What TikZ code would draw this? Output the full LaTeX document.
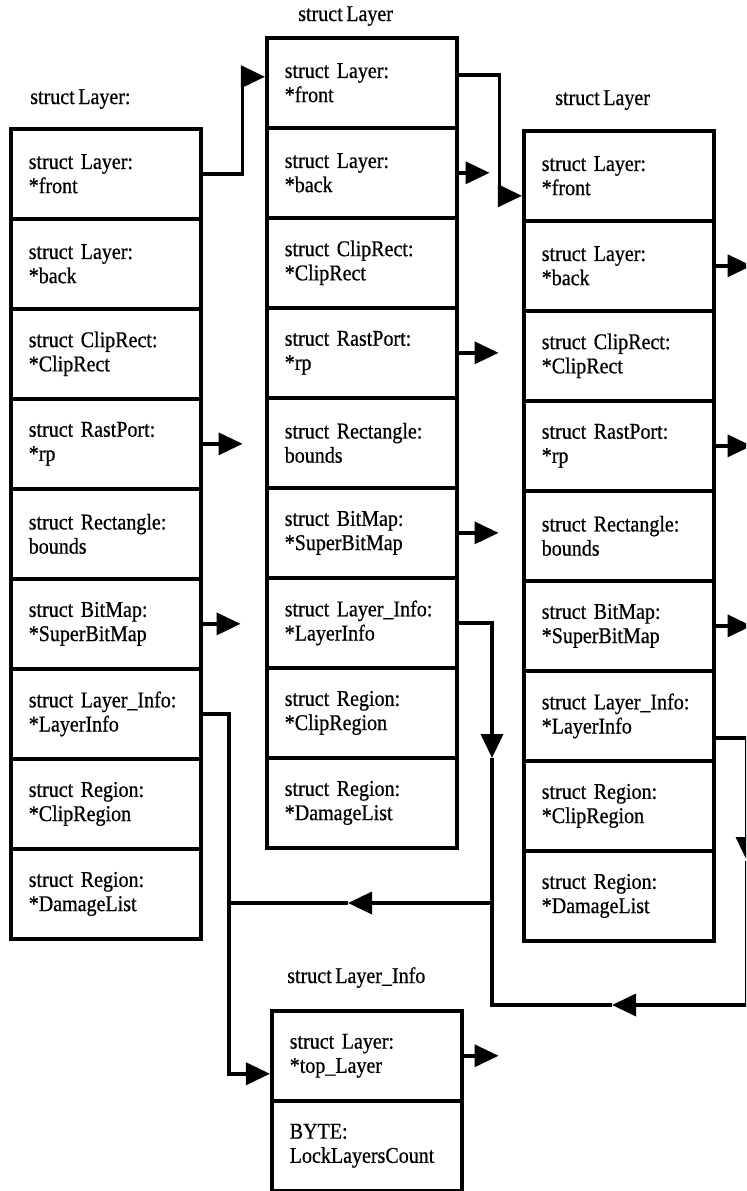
\documentclass[tikz,border=0pt]{standalone}
\usepackage{fontspec}
\setmainfont{Liberation Serif}[FakeStretch=0.89, FakeBold=0.6, WordSpace=0.7]
\usetikzlibrary{positioning,arrows.meta}
\newcommand{\fieldfont}{\fontsize{16}{17.2}\selectfont\spaceskip=0.17em plus 0.05em\relax}

\begin{document}
\begin{tikzpicture}[x=0.025cm, y=-0.025cm, node distance=2.25cm,
    field/.style={rectangle, draw, line width=2.5pt, minimum width=4.75cm, minimum height=2.25cm, text width=3.85cm, inner xsep=0.45cm, align=left, font=\fieldfont},
    title/.style={anchor=base west, inner sep=0pt, font=\fontsize{16}{17.2}\selectfont},
    arrow/.style={-{Triangle[length=0.6cm, width=0.55cm]}, line width=2.5pt},
    wire/.style={line width=2.5pt}]

    \useasboundingbox (0,0) rectangle (746,1191);
    \clip (0,0) rectangle (746,1191);

    \node[title] (title1) at (30,104) {struct Layer:};
    \node[field, anchor=north west] (front1) at (9,127) {struct Layer:\\{*}front};
    \node[field, below of=front1] (back1) {struct Layer:\\{*}back};
    \node[field, below of=back1] (clip1) {struct ClipRect:\\{*}ClipRect};
    \node[field, below of=clip1] (rp1) {struct RastPort:\\{*}rp};
    \node[field, below of=rp1] (bounds1) {struct Rectangle:\\bounds};
    \node[field, below of=bounds1] (bitmap1) {struct BitMap:\\{*}SuperBitMap};
    \node[field, below of=bitmap1] (info1) {struct Layer\_Info:\\{*}LayerInfo};
    \node[field, below of=info1] (cregion1) {struct Region:\\{*}ClipRegion};
    \node[field, below of=cregion1] (damage1) {struct Region:\\{*}DamageList};

    \node[title] (title2) at (298,21) {struct Layer};
    \node[field, anchor=north west] (front2) at (265,36) {struct Layer:\\{*}front};
    \node[field, below of=front2] (back2) {struct Layer:\\{*}back};
    \node[field, below of=back2] (clip2) {struct ClipRect:\\{*}ClipRect};
    \node[field, below of=clip2] (rp2) {struct RastPort:\\{*}rp};
    \node[field, below of=rp2] (bounds2) {struct Rectangle:\\bounds};
    \node[field, below of=bounds2] (bitmap2) {struct BitMap:\\{*}SuperBitMap};
    \node[field, below of=bitmap2] (info2) {struct Layer\_Info:\\{*}LayerInfo};
    \node[field, below of=info2] (cregion2) {struct Region:\\{*}ClipRegion};
    \node[field, below of=cregion2] (damage2) {struct Region:\\{*}DamageList};

    \node[title] (title3) at (555,105) {struct Layer};
    \node[field, anchor=north west] (front3) at (522,129) {struct Layer:\\{*}front};
    \node[field, below of=front3] (back3) {struct Layer:\\{*}back};
    \node[field, below of=back3] (clip3) {struct ClipRect:\\{*}ClipRect};
    \node[field, below of=clip3] (rp3) {struct RastPort:\\{*}rp};
    \node[field, below of=rp3] (bounds3) {struct Rectangle:\\bounds};
    \node[field, below of=bounds3] (bitmap3) {struct BitMap:\\{*}SuperBitMap};
    \node[field, below of=bitmap3] (info3) {struct Layer\_Info:\\{*}LayerInfo};
    \node[field, below of=info3] (cregion3) {struct Region:\\{*}ClipRegion};
    \node[field, below of=cregion3] (damage3) {struct Region:\\{*}DamageList};

    \node[title] (title4) at (287,983) {struct Layer\_Info};
    \node[field, anchor=north west] (top) at (270,1009) {struct Layer:\\{*}top\_Layer};
    \node[field, below of=top] (count) {BYTE:\\LockLayersCount};

    \coordinate (j1) at (229,903);
    \coordinate (j2) at (492,903);
    \coordinate (down2) at (492,758);
    \coordinate (left2) at (348,903);
    \coordinate (down3) at (747,861);
    \coordinate (edge3) at (747,1005);
    \coordinate (left3) at (612,1005);

    \draw[arrow] (front1.east) -- +(40,0) |- ([yshift=0.15cm]front2.west);
    \draw[arrow] ([yshift=0.2cm]front2.east) -- +(41,0) |- ([yshift=-0.5cm]front3.west);

    \draw[arrow] (rp1.east) -- +(40,0);
    \draw[arrow] (bitmap1.east) -- +(38,0);
    \draw[arrow] (back2.east) -- +(31,0);
    \draw[arrow] (rp2.east) -- +(40,0);
    \draw[arrow] (bitmap2.east) -- +(40,0);
    \draw[arrow] (back3.east) -- +(36,0);
    \draw[arrow] (rp3.east) -- +(36,0);
    \draw[arrow] (bitmap3.east) -- +(36,0);
    \draw[arrow] (top.east) -- +(35,0);

    \draw[arrow] (info1.east) -| (j1) |- ([yshift=-0.45cm]top.west);
    \draw[arrow] (info2.east) -| (down2);
    \draw[wire] (down2) -- (j2);
    \draw[arrow] (j2) -- (left2);
    \draw[wire] (left2) -- (j1);
    \draw[arrow] ([yshift=-0.55cm]info3.east) -| (down3);
    \draw[wire] (down3) -- (edge3);
    \draw[arrow] (edge3) -- (left3);
    \draw[wire] (left3) -| (j2);
\end{tikzpicture}
\end{document}
